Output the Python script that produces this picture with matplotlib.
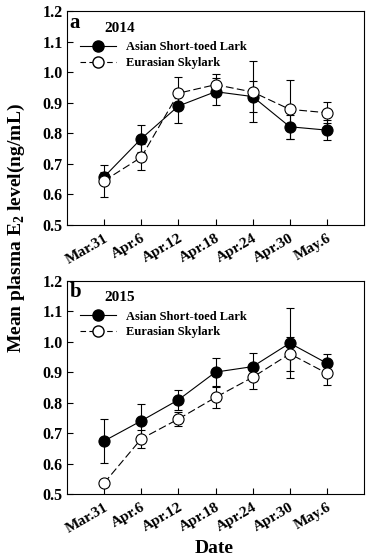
import matplotlib
matplotlib.use('Agg')
import matplotlib.pyplot as plt
from matplotlib.lines import Line2D

plt.rcParams['font.family'] = ['Liberation Serif', 'DejaVu Serif']
plt.rcParams['font.weight'] = 'bold'
plt.rcParams['mathtext.fontset'] = 'custom'
plt.rcParams['mathtext.rm'] = 'Liberation Serif:bold'
plt.rcParams['mathtext.bf'] = 'Liberation Serif:bold'

# Data
dates = ['Mar.31', 'Apr.6', 'Apr.12', 'Apr.18', 'Apr.24', 'Apr.30', 'May.6']

lark_2014 = [0.658, 0.783, 0.890, 0.937, 0.921, 0.822, 0.811]
lark_2014_err = [0.015, 0.044, 0.055, 0.045, 0.050, 0.039, 0.032]
sky_2014 = [0.645, 0.722, 0.932, 0.960, 0.936, 0.879, 0.868]
sky_2014_err = [0.052, 0.042, 0.052, 0.035, 0.100, 0.096, 0.035]

lark_2015 = [0.674, 0.740, 0.809, 0.900, 0.918, 0.995, 0.929]
lark_2015_err = [0.072, 0.056, 0.033, 0.047, 0.046, 0.115, 0.032]
sky_2015 = [0.536, 0.681, 0.746, 0.817, 0.883, 0.960, 0.896]
sky_2015_err = [0.008, 0.029, 0.023, 0.035, 0.039, 0.055, 0.038]

panels = [('a', '2014', lark_2014, lark_2014_err, sky_2014, sky_2014_err),
          ('b', '2015', lark_2015, lark_2015_err, sky_2015, sky_2015_err)]

fig = plt.figure(figsize=(3.69, 5.59), dpi=100)
ax_top = fig.add_axes([0.1816, 0.5975, 0.805, 0.382])
ax_bot = fig.add_axes([0.1816, 0.1163, 0.805, 0.3816])

x = list(range(len(dates)))
ms = 8
for ax, (letter, year, lark, lark_err, sky, sky_err) in zip([ax_top, ax_bot], panels):
    # Asian Short-toed Lark
    ax.errorbar(x, lark, yerr=lark_err, fmt='none', ecolor='black',
                elinewidth=0.8, capsize=3, capthick=0.8, zorder=2)
    ax.plot(x, lark, color='black', lw=0.8, marker='o', ms=ms,
            mfc='black', mec='black', mew=0.8, zorder=3)
    # Eurasian Skylark
    ax.errorbar(x, sky, yerr=sky_err, fmt='none', ecolor='black',
                elinewidth=0.8, capsize=3, capthick=0.8, zorder=4)
    ax.plot(x, sky, color='black', lw=0.8, dashes=(7, 3), marker='o', ms=ms,
            mfc='white', mec='black', mew=0.8, zorder=5)

    ax.set_xlim(-1, 7)
    ax.set_ylim(0.5, 1.2)
    ax.set_yticks([0.5, 0.6, 0.7, 0.8, 0.9, 1.0, 1.1, 1.2])
    ax.set_yticklabels(['%.1f' % v for v in ax.get_yticks()], fontsize=11.5, fontweight='bold')
    ax.set_xticks(x)
    ax.set_xticklabels(dates, rotation=30, ha='right', rotation_mode='anchor',
                       fontsize=11, fontweight='bold')
    ax.tick_params(direction='in', length=4, width=0.8, pad=3)
    ax.tick_params(axis='x', pad=5)
    for s in ax.spines.values():
        s.set_linewidth(0.8)

    ax.text(0.008, 0.995, letter, transform=ax.transAxes, fontsize=15,
            fontweight='bold', va='top', ha='left')
    ax.text(0.125, 0.92, year, transform=ax.transAxes, fontsize=11,
            fontweight='bold', va='center', ha='left')

    handles = [Line2D([], [], color='black', lw=0.8, marker='o', ms=ms,
                      mfc='black', mec='black'),
               Line2D([], [], color='black', lw=0.8, dashes=(5, 3), marker='o', ms=ms,
                      mfc='white', mec='black')]
    ax.legend(handles, ['Asian Short-toed Lark', 'Eurasian Skylark'],
              loc='upper left', bbox_to_anchor=(0.043, 0.86), frameon=False,
              prop={'family': 'Liberation Serif', 'weight': 'bold', 'size': 9},
              handlelength=2.9, handletextpad=0.8, borderpad=0, borderaxespad=0,
              labelspacing=0.3)

fig.text(0.045, 0.592, r'Mean plasma E$_2$ level(ng/mL)', rotation=90,
         fontsize=14, fontweight='bold', ha='center', va='center')
fig.text(0.58, 0.018, 'Date', fontsize=14, fontweight='bold', ha='center', va='center')

fig.savefig('out.png', dpi=100)
